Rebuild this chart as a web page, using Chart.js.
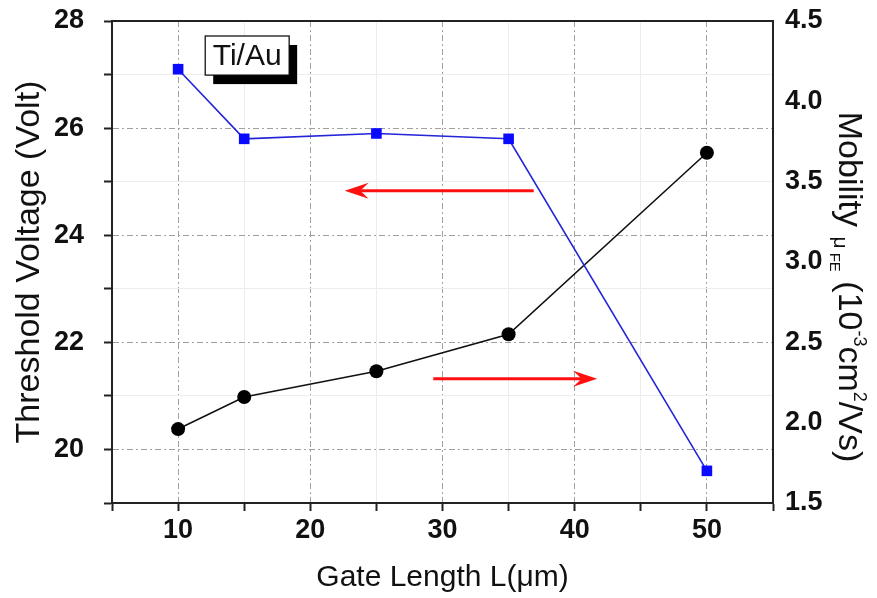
<!DOCTYPE html>
<html>
<head>
<meta charset="utf-8">
<script src="https://cdn.jsdelivr.net/npm/chart.js@4/dist/chart.umd.min.js"></script>
<style>
  html, body { margin: 0; padding: 0; background: #fff; }
</style>
</head>
<body>
<canvas id="chart" width="877" height="598"></canvas>
<script>
// data
const gateLength       = [10, 15, 25, 35, 50];
const thresholdVoltage = [27.1, 25.8, 25.9, 25.8, 19.6];
const mobility         = [1.96, 2.16, 2.32, 2.55, 3.68];

const xTicks  = [5, 10, 15, 20, 25, 30, 35, 40, 45, 50, 55];
const vTicks  = [19, 20, 21, 22, 23, 24, 25, 26, 27, 28];
const muTicks = [1.5, 2.0, 2.5, 3.0, 3.5, 4.0, 4.5];

// arrows: [fromX, toX, y on voltage axis]
const arrowLeft  = [36.9, 22.6, 24.83];
const arrowRight = [29.3, 41.7, 21.32];

const FONT = "'Liberation Sans', Arial, sans-serif";
const MAJOR_GRID = '#a0a0a0';
const MINOR_GRID = '#ececec';

const isMajorX = v => v % 10 === 0 && v >= 10 && v <= 50;
const isMajorV = v => v % 2 === 0;

// keep the plot box where the reference has it
function fixBox(size, prop) {
  return s => {
    s[prop] = size;
    s.paddingTop = 0; s.paddingBottom = 0;
    s.paddingLeft = 0; s.paddingRight = 0;
  };
}

function drawArrow(ctx, x1, y1, x2, y2) {
  const dir = Math.sign(x2 - x1);
  const headLen = 24, headHalf = 8;
  ctx.save();
  ctx.strokeStyle = '#ff1010';
  ctx.fillStyle = '#ff1010';
  ctx.lineWidth = 3;
  ctx.beginPath();
  ctx.moveTo(x1, y1);
  ctx.lineTo(x2 - dir * headLen * 0.6, y2);
  ctx.stroke();
  ctx.beginPath();
  ctx.moveTo(x2, y2);
  ctx.lineTo(x2 - dir * headLen, y2 - headHalf);
  ctx.lineTo(x2 - dir * headLen * 0.65, y2);
  ctx.lineTo(x2 - dir * headLen, y2 + headHalf);
  ctx.closePath();
  ctx.fill();
  ctx.restore();
}

const extras = {
  id: 'extras',
  afterDatasetsDraw(chart) {
    const { ctx, scales } = chart;
    const x = scales.x, yv = scales.yV;

    drawArrow(ctx, x.getPixelForValue(arrowLeft[0]), yv.getPixelForValue(arrowLeft[2]),
                   x.getPixelForValue(arrowLeft[1]), yv.getPixelForValue(arrowLeft[2]));
    drawArrow(ctx, x.getPixelForValue(arrowRight[0]), yv.getPixelForValue(arrowRight[2]),
                   x.getPixelForValue(arrowRight[1]), yv.getPixelForValue(arrowRight[2]));

    // Ti/Au label box with drop shadow
    const bx1 = x.getPixelForValue(12.05), bx2 = x.getPixelForValue(18.4);
    const by1 = yv.getPixelForValue(27.72), by2 = yv.getPixelForValue(26.99);
    ctx.save();
    ctx.fillStyle = '#000';
    ctx.fillRect(bx1 + 8, by1 + 9, bx2 - bx1, by2 - by1);
    ctx.fillStyle = '#fff';
    ctx.fillRect(bx1, by1, bx2 - bx1, by2 - by1);
    ctx.strokeStyle = '#000';
    ctx.lineWidth = 1.2;
    ctx.strokeRect(bx1, by1, bx2 - bx1, by2 - by1);
    ctx.fillStyle = '#111';
    ctx.font = `30px ${FONT}`;
    ctx.textAlign = 'center';
    ctx.textBaseline = 'middle';
    ctx.fillText('Ti/Au', (bx1 + bx2) / 2, (by1 + by2) / 2 + 1);
    ctx.restore();
  },
  afterDraw(chart) {
    const { ctx, chartArea: a } = chart;
    ctx.save();
    // top frame line
    ctx.strokeStyle = '#222';
    ctx.lineWidth = 2;
    ctx.beginPath();
    ctx.moveTo(a.left, a.top);
    ctx.lineTo(a.right, a.top);
    ctx.stroke();

    // right axis title with sub/superscripts, rotated clockwise
    const parts = [
      { t: 'Mobility ', size: 34, dy: 0 },
      { t: 'μ', size: 21, dy: 5 },
      { t: ' FE', size: 15, dy: 9 },
      { t: ' (10', size: 34, dy: 0 },
      { t: '-3', size: 18, dy: -15 },
      { t: 'cm', size: 34, dy: 0 },
      { t: '2', size: 18, dy: -15 },
      { t: '/Vs)', size: 34, dy: 0 }
    ];
    let total = 0;
    parts.forEach(p => { ctx.font = `${p.size}px ${FONT}`; p.w = ctx.measureText(p.t).width; total += p.w; });
    ctx.translate(851, 287);
    ctx.rotate(Math.PI / 2);
    ctx.fillStyle = '#111';
    ctx.textBaseline = 'alphabetic';
    ctx.textAlign = 'left';
    let cx = -total / 2;
    parts.forEach(p => {
      ctx.font = `${p.size}px ${FONT}`;
      ctx.fillText(p.t, cx, 12 + p.dy);
      cx += p.w;
    });
    ctx.restore();
  }
};

new Chart(document.getElementById('chart'), {
  type: 'line',
  data: {
    datasets: [
      {
        label: 'Threshold Voltage',
        data: gateLength.map((g, i) => ({ x: g, y: thresholdVoltage[i] })),
        yAxisID: 'yV',
        borderColor: '#2424d8',
        backgroundColor: '#0a0aff',
        borderWidth: 1.6,
        pointStyle: 'rect',
        pointRadius: 7.5,
        pointBorderWidth: 0,
        tension: 0
      },
      {
        label: 'Mobility',
        data: gateLength.map((g, i) => ({ x: g, y: mobility[i] })),
        yAxisID: 'yMu',
        borderColor: '#111',
        backgroundColor: '#000',
        borderWidth: 1.6,
        pointStyle: 'circle',
        pointRadius: 7,
        pointBorderWidth: 0,
        tension: 0
      }
    ]
  },
  options: {
    responsive: false,
    animation: false,
    devicePixelRatio: 1,
    layout: { padding: { top: 21, left: 0, right: 0, bottom: 0 } },
    plugins: { legend: { display: false }, tooltip: { enabled: false } },
    scales: {
      x: {
        type: 'linear',
        min: 5, max: 55,
        afterBuildTicks: s => { s.ticks = xTicks.map(v => ({ value: v })); },
        afterFit: fixBox(95, 'height'),
        ticks: {
          autoSkip: false,
          maxRotation: 0,
          padding: 3,
          color: '#111',
          font: { family: FONT, size: 27, weight: 'bold' },
          callback: v => isMajorX(v) ? String(v) : ''
        },
        grid: {
          color: c => isMajorX(c.tick.value) ? MAJOR_GRID : MINOR_GRID,
          lineWidth: 1,
          tickColor: '#222',
          tickLength: 8,
          tickWidth: 2
        },
        border: {
          color: '#222', width: 2,
          dash: c => (c.tick && isMajorX(c.tick.value)) ? [6, 3, 2, 3] : []
        },
        title: {
          display: true,
          text: 'Gate Length L(μm)',
          color: '#111',
          font: { family: FONT, size: 30 },
          padding: { top: 0, bottom: 2 }
        }
      },
      yV: {
        type: 'linear',
        position: 'left',
        min: 19, max: 28,
        afterBuildTicks: s => { s.ticks = vTicks.map(v => ({ value: v })); },
        afterFit: fixBox(112, 'width'),
        ticks: {
          autoSkip: false,
          padding: 20,
          color: '#111',
          font: { family: FONT, size: 27, weight: 'bold' },
          callback: v => isMajorV(v) ? String(v) : ''
        },
        grid: {
          color: c => isMajorV(c.tick.value) ? MAJOR_GRID : MINOR_GRID,
          lineWidth: 1,
          tickColor: '#222',
          tickLength: 8,
          tickWidth: 2
        },
        border: {
          color: '#222', width: 2,
          dash: c => (c.tick && isMajorV(c.tick.value)) ? [6, 3, 2, 3] : []
        },
        title: {
          display: true,
          text: 'Threshold Voltage (Volt)',
          color: '#111',
          font: { family: FONT, size: 34 },
          padding: { top: 9, bottom: 0 }
        }
      },
      yMu: {
        type: 'linear',
        position: 'right',
        min: 1.5, max: 4.5,
        afterBuildTicks: s => { s.ticks = muTicks.map(v => ({ value: v })); },
        afterFit: fixBox(104, 'width'),
        ticks: {
          autoSkip: false,
          padding: 12,
          color: '#111',
          font: { family: FONT, size: 27, weight: 'bold' },
          callback: v => v.toFixed(1)
        },
        grid: { drawOnChartArea: false, drawTicks: false },
        border: { color: '#222', width: 2 }
      }
    }
  },
  plugins: [extras]
});
</script>
</body>
</html>
